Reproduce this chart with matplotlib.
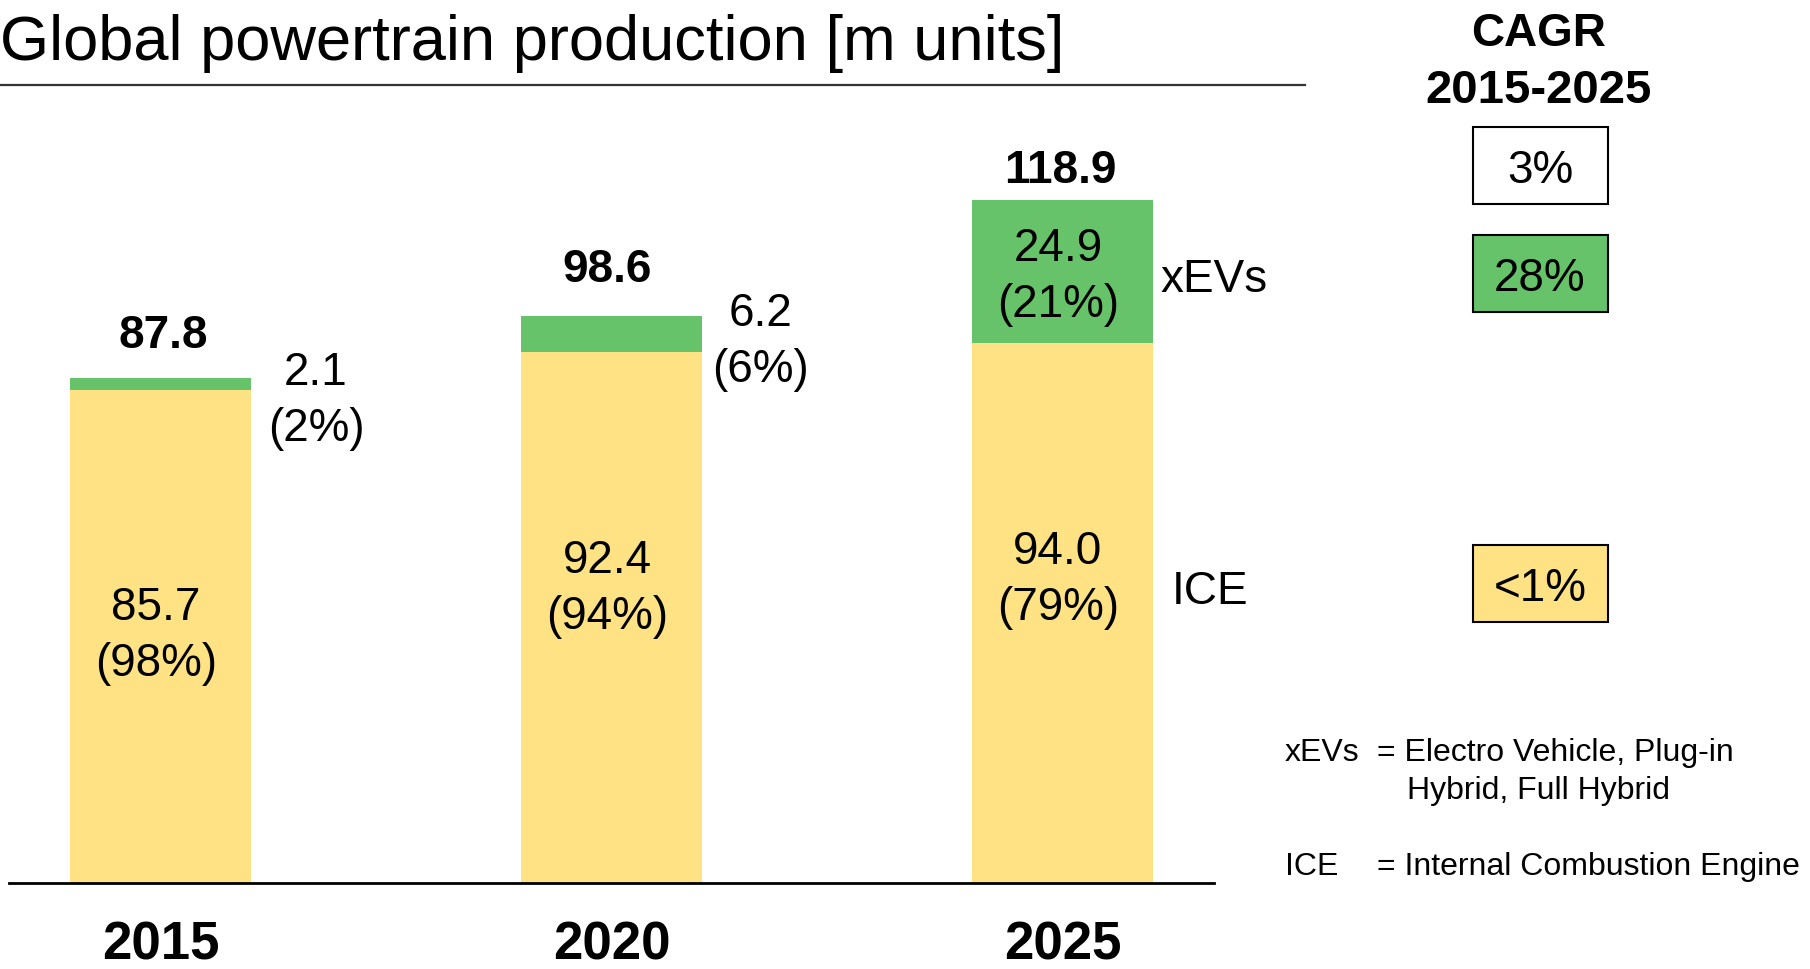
import matplotlib
matplotlib.use("Agg")
import matplotlib.pyplot as plt
from matplotlib.patches import Rectangle

plt.rcParams['font.family'] = ['Liberation Sans', 'DejaVu Sans']

# data
years = ['2015', '2020', '2025']
ice = [85.7, 92.4, 94.0]
xev = [2.1, 6.2, 24.9]
totals = [87.8, 98.6, 118.9]
ice_share = ['(98%)', '(94%)', '(79%)']
xev_share = ['(2%)', '(6%)', '(21%)']
cagr_labels = ['3%', '28%', '<1%']

YELLOW = '#FEE283'
GREEN = '#66C36A'

W, H = 1810, 969
fig = plt.figure(figsize=(W / 100, H / 100), dpi=100)

# bar axes: baseline at y=883px, 5.748 px per unit
ymax = 883 / 5.748
ax = fig.add_axes([9 / W, (H - 883) / H, (1214 - 9) / W, 883 / H])
x = range(len(years))
ax.bar(x, ice, width=0.40, color=YELLOW)
ax.bar(x, xev, width=0.40, bottom=ice, color=GREEN)
ax.set_xlim(-0.336, 2.336)
ax.set_ylim(0, ymax)
for s in ['top', 'right', 'left']:
    ax.spines[s].set_visible(False)
ax.spines['bottom'].set_linewidth(2)
ax.set_yticks([])
ax.set_xticks(list(x))
ax.set_xticklabels(years, fontsize=38, fontweight='bold')
ax.tick_params(axis='x', length=0, pad=27)

LS = 1.35

# labels in the bars
ice_label_y = [43.0, 51.1, 52.7]
for i in x:
    ax.text(i - 0.01, ice_label_y[i], f'{ice[i]:.1f}\n{ice_share[i]}', ha='center', va='center',
            fontsize=33, linespacing=LS)
# xEV: inside for 2025, outside for the others
ax.text(2 - 0.01, ice[2] + xev[2] / 2 - 1, f'{xev[2]:.1f}\n{xev_share[2]}', ha='center', va='center',
        fontsize=33, linespacing=LS)
out_y = [83.9, 94.1]
out_dx = [0.345, 0.33]
for i in range(2):
    ax.text(i + out_dx[i], out_y[i], f'{xev[i]:.1f}\n{xev_share[i]}', ha='center', va='center',
            fontsize=33, linespacing=LS)

total_y = [95.2, 106.6, 123.9]
total_dx = [0.005, -0.01, -0.005]
for i in x:
    ax.text(i + total_dx[i], total_y[i], f'{totals[i]:.1f}', ha='center', va='center',
            fontsize=33, fontweight='bold')

ax.text(2.218, 104.9, 'xEVs', ha='left', va='center', fontsize=33)
ax.text(2.243, 50.7, 'ICE', ha='left', va='center', fontsize=33)

# title + underline
fig.text(0, 1 - 60 / H, 'Global powertrain production [m units]', fontsize=45.5,
         ha='left', va='baseline')
fig.add_artist(plt.Line2D([0, 1305 / W], [1 - 85 / H, 1 - 85 / H], color='#333333', lw=1.6))

# CAGR column
fig.text(1539 / W, 1 - 34 / H, 'CAGR', ha='center', va='center', fontsize=33, fontweight='bold')
fig.text(1539 / W, 1 - 91 / H, '2015-2025', ha='center', va='center', fontsize=34, fontweight='bold')
box_top = [127, 235, 545]
box_col = ['white', GREEN, YELLOW]
for lab, top, c in zip(cagr_labels, box_top, box_col):
    fig.add_artist(Rectangle((1473 / W, 1 - (top + 77) / H), 135 / W, 77 / H,
                             transform=fig.transFigure, facecolor=c, edgecolor='black', lw=1.5))
    fig.text(1540 / W, 1 - (top + 44) / H, lab, ha='center', va='center', fontsize=33)

# footnotes
fig.text(1285 / W, 1 - 753 / H, 'xEVs', ha='left', va='center', fontsize=23)
fig.text(1377 / W, 1 - 753 / H, '= Electro Vehicle, Plug-in', ha='left', va='center', fontsize=23)
fig.text(1407 / W, 1 - 791 / H, 'Hybrid, Full Hybrid', ha='left', va='center', fontsize=23)
fig.text(1285 / W, 1 - 867 / H, 'ICE', ha='left', va='center', fontsize=23)
fig.text(1377 / W, 1 - 867 / H, '= Internal Combustion Engine', ha='left', va='center', fontsize=23)

fig.savefig('out.png', dpi=100)
